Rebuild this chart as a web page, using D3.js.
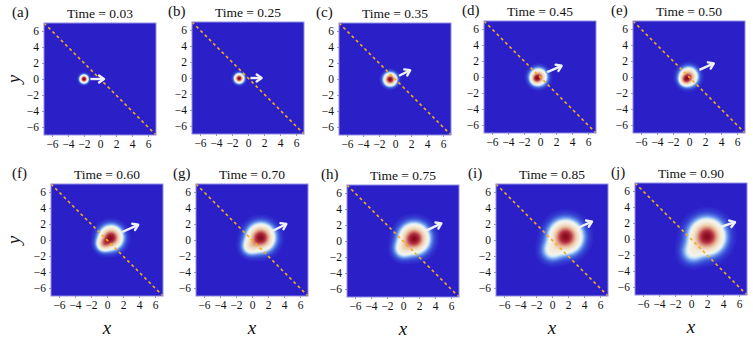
<!DOCTYPE html>
<html>
<head>
<meta charset="utf-8">
<script src="https://cdn.jsdelivr.net/npm/d3@7"></script>
<style>
  body { margin: 0; background: #fff; }
  svg text { font-family: "Liberation Serif", "Times New Roman", serif; fill: #111; }
</style>
</head>
<body>
<div id="chart"></div>
<script>
// data
var letters = ["a", "b", "c", "d", "e", "f", "g", "h", "i", "j"];
var times = ["0.03", "0.25", "0.35", "0.45", "0.50", "0.60", "0.70", "0.75", "0.85", "0.90"];
var ticks = [-6, -4, -2, 0, 2, 4, 6];
// main blob: centre and width
var blobX = [-2.0, -1.1, -0.6, -0.2, -0.05, 0.5, 1.1, 1.4, 1.7, 2.0];
var blobY = [0.0, -0.05, -0.05, 0.0, 0.05, 0.3, 0.3, 0.3, 0.4, 0.3];
var blobW = [0.27, 0.31, 0.42, 0.55, 0.6, 0.75, 0.88, 0.95, 1.05, 1.12];
// second (weaker) lobe below the diagonal
var lobeX = [-2.0, -1.1, -0.7, -0.5, -0.45, -0.4, -0.2, 0.0, 0.0, 0.2];
var lobeY = [0.0, -0.1, 0.0, -0.25, -0.35, -0.5, -0.8, -1.0, -1.3, -1.6];
var lobeA = [0, 0, 0, 0.45, 0.6, 0.45, 0.26, 0.24, 0.2, 0.18];
var lobeW = [0.3, 0.3, 0.3, 0.35, 0.4, 0.5, 0.6, 0.65, 0.75, 0.8];
// arrows (start -> end, in x/y units)
var arrX0 = [-1.2, 0.3, 0.5, 0.9, 1.3, 1.9, 2.3, 2.9, 3.2, 3.7];
var arrY0 = [0.0, 0.0, 0.4, 0.6, 0.9, 1.0, 1.0, 1.3, 1.5, 1.5];
var arrX1 = [0.5, 1.7, 1.9, 2.7, 3.1, 3.9, 4.3, 4.8, 5.0, 5.5];
var arrY1 = [0.0, 0.0, 1.1, 1.4, 1.7, 1.9, 2.0, 2.2, 2.3, 2.1];

// layout
var W = 753, H = 341, size = 112;
var panelX = [44, 192, 339, 484, 633, 51, 196, 347, 496, 635];
var panelY = [23, 22, 23, 21, 21, 184, 184, 185, 184, 183];
var letterX = [12, 168, 316, 462, 611, 12, 173, 321, 468, 611];
var N = 112; // grid cells per side
var serif = "'Liberation Serif', 'Times New Roman', serif";

var svg = d3.select("#chart").append("svg")
    .attr("width", W)
    .attr("height", H);

var bg = "#2b1fc8";
var color = d3.scaleLinear()
    .domain([0, 0.03, 0.085, 0.13, 0.18, 0.32, 0.47, 0.62, 0.8, 1.0])
    .range([bg, "#3a52d8", "#7eaaf0", "#c8e2f6", "#f4f4ec", "#f2e6d2", "#ecc6a6", "#da8c7c", "#b63444", "#860a20"])
    .clamp(true);

var cells = d3.range(N * N);

letters.forEach(function (letter, p) {
    var x = d3.scaleLinear().domain([-7, 7]).range([0, size]);
    var y = d3.scaleLinear().domain([-7, 7]).range([size, 0]);
    var g = svg.append("g").attr("transform", "translate(" + panelX[p] + "," + panelY[p] + ")");

    var step = 14 / N;
    function raw(i) {
        var cx = -7 + step * (i % N + 0.5);
        var cy = -7 + step * (Math.floor(i / N) + 0.5);
        var d1 = (cx - blobX[p]) * (cx - blobX[p]) + (cy - blobY[p]) * (cy - blobY[p]);
        var d2 = (cx - lobeX[p]) * (cx - lobeX[p]) + (cy - lobeY[p]) * (cy - lobeY[p]);
        return Math.exp(-d1 / (2 * blobW[p] * blobW[p])) +
            lobeA[p] * Math.exp(-d2 / (2 * lobeW[p] * lobeW[p]));
    }
    var vals = cells.map(raw);
    var vmax = d3.max(vals);

    g.append("rect")
        .attr("width", size).attr("height", size)
        .attr("fill", bg);

    // heat map (only cells that differ from the background)
    g.append("g")
        .selectAll("rect")
        .data(cells.filter(function (i) { return vals[i] / vmax > 0.004; }))
        .enter()
        .append("rect")
        .attr("x", function (i) { return x(-7 + step * (i % N)); })
        .attr("y", function (i) { return y(-7 + step * (Math.floor(i / N) + 1)); })
        .attr("width", x(step) - x(0) + 0.2)
        .attr("height", x(step) - x(0) + 0.2)
        .attr("fill", function (i) { return color(vals[i] / vmax); })
        .attr("shape-rendering", "crispEdges");

    // dashed diagonal
    g.append("line")
        .attr("x1", x(-7)).attr("y1", y(7))
        .attr("x2", x(7)).attr("y2", y(-7))
        .attr("stroke", "#f2ac1c")
        .attr("stroke-width", 1.6)
        .attr("stroke-dasharray", "3,3");

    // arrow
    var ax0 = x(arrX0[p]), ay0 = y(arrY0[p]), ax1 = x(arrX1[p]), ay1 = y(arrY1[p]);
    var ang = Math.atan2(ay1 - ay0, ax1 - ax0);
    var hl = 6, ha = 0.6;
    g.append("line")
        .attr("x1", ax0).attr("y1", ay0)
        .attr("x2", ax1).attr("y2", ay1)
        .attr("stroke", "#eef0fa")
        .attr("stroke-width", 2.4);
    g.append("polyline")
        .attr("points", [
            [ax1 - hl * Math.cos(ang - ha), ay1 - hl * Math.sin(ang - ha)],
            [ax1, ay1],
            [ax1 - hl * Math.cos(ang + ha), ay1 - hl * Math.sin(ang + ha)]
        ].map(function (q) { return q.join(","); }).join(" "))
        .attr("fill", "none")
        .attr("stroke", "#eef0fa")
        .attr("stroke-width", 2.4)
        .attr("stroke-linecap", "round")
        .attr("stroke-linejoin", "round");

    // frame
    g.append("rect")
        .attr("x", 0).attr("y", 0)
        .attr("width", size).attr("height", size)
        .attr("fill", "none")
        .attr("stroke", "#8f8fe6")
        .attr("stroke-width", 1);

    // axes
    var fmt = function (d) { return d < 0 ? "\u2212" + (-d) : d; };
    var yAxis = d3.axisLeft(y).tickValues(ticks).tickSize(2).tickPadding(3).tickFormat(fmt);
    var xAxis = d3.axisBottom(x).tickValues(ticks).tickSize(2).tickPadding(3).tickFormat(fmt);
    var ya = g.append("g").call(yAxis);
    var xa = g.append("g").attr("transform", "translate(0," + size + ")").call(xAxis);
    [ya, xa].forEach(function (a) {
        a.attr("font-family", serif).attr("font-size", 11.5);
        a.select(".domain").remove();
        a.selectAll("line").attr("stroke", "#999");
        a.selectAll("text").attr("fill", "#111");
    });

    // title
    g.append("text")
        .attr("x", size / 2)
        .attr("y", -5)
        .attr("text-anchor", "middle")
        .attr("font-family", serif)
        .attr("font-size", 13.5)
        .text("Time = " + times[p]);

    // panel letter
    svg.append("text")
        .attr("x", letterX[p])
        .attr("y", panelY[p] - 6)
        .attr("font-family", serif)
        .attr("font-size", 15)
        .text("(" + letter + ")");

    // axis names
    if (p % 5 === 0) {
        svg.append("text")
            .attr("transform", "translate(" + 20 + "," + (panelY[p] + size / 2) + ") rotate(-90)")
            .attr("text-anchor", "middle")
            .attr("font-family", serif)
            .attr("font-size", 19)
            .attr("font-style", "italic")
            .text("y");
    }
    if (p >= 5) {
        g.append("text")
            .attr("x", size / 2)
            .attr("y", size + 38)
            .attr("text-anchor", "middle")
            .attr("font-family", serif)
            .attr("font-size", 19)
            .attr("font-style", "italic")
            .text("x");
    }
});
</script>
</body>
</html>
